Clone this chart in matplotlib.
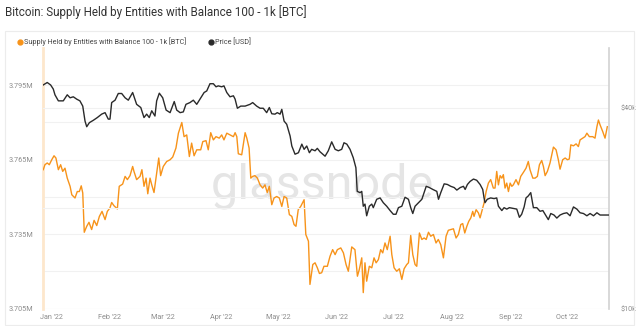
import numpy as np
import pandas as pd
import matplotlib
matplotlib.use('Agg')
from matplotlib import pyplot as plt
from matplotlib.lines import Line2D
from matplotlib.patches import Rectangle
from matplotlib.ticker import FixedLocator, NullFormatter

# Supply held by entities with 100 - 1k BTC (millions of BTC), days counted from 2022-01-01
supply_day = [-4.1, -3.2, -2.0, -0.9, 0.4, 1.6, 2.6, 3.9, 5.1, 6.2, 7.4, 8.6, 10.1, 11.0, 12.7,
              13.9, 15.0, 16.0, 16.8, 17.6, 18.9, 20.1, 21.5, 22.8, 24.2, 25.6, 27.0, 28.6, 29.8,
              31.2, 32.1, 33.3, 35.1, 36.1, 37.9, 39.2, 40.4, 41.8, 43.2, 43.9, 45.3, 47.1, 48.1,
              49.2, 50.3, 51.2, 52.4, 53.3, 54.5, 55.9, 57.0, 58.0, 59.4, 61.2, 63.0, 64.4, 66.1,
              67.4, 69.2, 70.4, 71.8, 73.2, 74.4, 75.7, 77.1, 79.2, 80.3, 82.0, 83.2, 84.5, 85.9,
              87.3, 89.0, 90.3, 91.5, 93.0, 94.7, 96.5, 97.4, 98.3, 99.1, 100.9, 102.7, 103.6,
              104.8, 105.7, 106.7, 107.9, 109.2, 110.6, 112.0, 113.2, 114.4, 115.5, 116.8, 118.0,
              119.4, 120.8, 122.1, 123.3, 124.7, 126.1, 127.4, 128.6, 129.6, 130.8, 132.1, 133.9,
              134.8, 136.2, 137.0, 138.5, 139.7, 140.9, 142.0, 143.2, 144.4, 146.2, 147.6, 149.0,
              150.3, 151.5, 153.3, 154.7, 156.1, 157.3, 159.1, 160.8, 162.1, 163.1, 164.4, 165.2,
              166.1, 167.0, 168.4, 169.7, 170.9, 172.0, 173.2, 174.4, 175.5, 176.7, 177.9, 179.4,
              180.3, 181.5, 182.9, 184.3, 185.6, 186.8, 188.2, 189.1, 190.3, 191.4, 192.6, 193.5,
              194.9, 196.2, 197.4, 198.5, 199.7, 200.9, 202.3, 203.7, 204.9, 206.2, 207.6, 209.0,
              210.2, 211.5, 212.9, 214.3, 215.5, 216.8, 217.8, 218.9, 220.0, 221.0, 222.1, 223.1,
              223.8, 224.9, 226.1, 227.0, 227.9, 229.1, 230.2, 231.4, 232.6, 234.0, 234.9, 235.8,
              236.7, 237.6, 238.5, 239.3, 240.2, 241.1, 242.0, 242.9, 243.8, 244.6, 246.0, 247.3,
              248.5, 249.9, 251.3, 252.5, 253.4, 254.9, 256.1, 257.3, 258.4, 259.6, 260.5, 261.4,
              262.6, 264.0, 264.9, 265.8, 267.2, 268.4, 269.3, 270.7, 272.0, 273.2, 274.2, 275.0,
              276.4, 277.8, 279.0, 279.9, 281.3, 282.5, 283.5, 284.8, 286.6, 287.8, 288.8, 289.6,
              290.5, 291.9, 293.1, 294.3]
supply_m = [3.7609, 3.7629, 3.7636, 3.7629, 3.7649, 3.7665, 3.7656, 3.7609, 3.7629, 3.7602, 3.7615,
            3.7575, 3.7542, 3.7508, 3.7495, 3.7521, 3.7521, 3.7544, 3.7515, 3.7357, 3.7381, 3.7397,
            3.7368, 3.7405, 3.7384, 3.7421, 3.7441, 3.7408, 3.7441, 3.7455, 3.7477, 3.7464, 3.7451,
            3.7542, 3.7551, 3.7582, 3.7569, 3.7585, 3.7622, 3.7602, 3.7569, 3.7582, 3.7609, 3.7542,
            3.7575, 3.7512, 3.7575, 3.7548, 3.7517, 3.7595, 3.7656, 3.7585, 3.7622, 3.7642, 3.7649,
            3.7660, 3.7696, 3.7756, 3.7799, 3.7742, 3.7749, 3.7662, 3.7716, 3.7665, 3.7689, 3.7689,
            3.7722, 3.7726, 3.7689, 3.7758, 3.7729, 3.7742, 3.7736, 3.7749, 3.7729, 3.7756, 3.7749,
            3.7742, 3.7758, 3.7742, 3.7673, 3.7669, 3.7758, 3.7736, 3.7696, 3.7575, 3.7582, 3.7585,
            3.7575, 3.7548, 3.7535, 3.7548, 3.7517, 3.7542, 3.7468, 3.7495, 3.7501, 3.7495, 3.7461,
            3.7501, 3.7495, 3.7428, 3.7421, 3.7388, 3.7381, 3.7448, 3.7461, 3.7488, 3.7348, 3.7321,
            3.7147, 3.7227, 3.7234, 3.7214, 3.7191, 3.7194, 3.7220, 3.7220, 3.7260, 3.7287, 3.7267,
            3.7287, 3.7294, 3.7274, 3.7227, 3.7200, 3.7298, 3.7287, 3.7180, 3.7207, 3.7254, 3.7114,
            3.7234, 3.7160, 3.7220, 3.7214, 3.7254, 3.7234, 3.7247, 3.7287, 3.7274, 3.7314, 3.7287,
            3.7341, 3.7267, 3.7214, 3.7200, 3.7210, 3.7167, 3.7210, 3.7227, 3.7234, 3.7344, 3.7267,
            3.7227, 3.7220, 3.7354, 3.7328, 3.7334, 3.7328, 3.7357, 3.7341, 3.7348, 3.7314, 3.7328,
            3.7307, 3.7254, 3.7341, 3.7365, 3.7368, 3.7371, 3.7334, 3.7348, 3.7388, 3.7392, 3.7354,
            3.7381, 3.7401, 3.7415, 3.7441, 3.7421, 3.7448, 3.7435, 3.7415, 3.7441, 3.7475, 3.7521,
            3.7555, 3.7569, 3.7535, 3.7535, 3.7602, 3.7548, 3.7585, 3.7575, 3.7589, 3.7535, 3.7555,
            3.7521, 3.7555, 3.7542, 3.7548, 3.7569, 3.7548, 3.7582, 3.7598, 3.7615, 3.7642, 3.7609,
            3.7575, 3.7575, 3.7582, 3.7629, 3.7646, 3.7622, 3.7585, 3.7602, 3.7636, 3.7669, 3.7700,
            3.7689, 3.7649, 3.7611, 3.7649, 3.7656, 3.7649, 3.7652, 3.7709, 3.7705, 3.7713, 3.7702,
            3.7729, 3.7736, 3.7742, 3.7756, 3.7742, 3.7742, 3.7736, 3.7782, 3.7809, 3.7789, 3.7762,
            3.7736, 3.7782]

# BTC price (thousands of USD), days counted from 2022-01-01
price_day = [-4.1, -2.0, -0.2, 1.2, 2.1, 3.9, 6.5, 8.6, 10.1, 11.8, 13.6, 15.3, 16.8, 18.0, 18.9,
             20.3, 22.4, 24.5, 26.8, 28.6, 30.3, 31.2, 32.1, 33.9, 35.6, 37.4, 39.2, 40.9, 43.2,
             45.3, 47.5, 49.2, 50.6, 52.0, 53.3, 55.0, 55.9, 57.3, 59.1, 60.9, 63.0, 65.2, 66.5,
             68.3, 70.0, 71.4, 73.5, 75.3, 77.1, 78.8, 81.0, 82.4, 84.1, 85.9, 87.3, 88.5, 90.3,
             91.5, 93.0, 94.7, 96.5, 97.4, 98.6, 100.4, 102.7, 105.3, 106.7, 108.8, 110.6, 112.3,
             114.1, 115.5, 116.8, 118.5, 119.7, 121.2, 122.1, 123.3, 124.7, 126.5, 127.4, 129.1,
             130.9, 132.7, 133.9, 135.3, 136.7, 137.9, 139.7, 140.9, 142.3, 144.4, 145.0, 146.7,
             148.5, 150.3, 152.0, 153.8, 155.0, 156.5, 158.2, 159.9, 161.3, 162.0, 163.5, 164.4,
             165.2, 166.1, 167.0, 168.4, 169.7, 170.5, 172.3, 174.1, 175.8, 177.6, 179.4, 181.1,
             182.5, 183.8, 185.6, 187.3, 189.1, 190.3, 191.4, 192.6, 194.4, 196.2, 197.4, 198.5,
             200.2, 202.0, 204.1, 205.0, 206.2, 208.0, 209.7, 211.5, 213.3, 214.7, 216.5, 218.2,
             219.1, 220.3, 221.7, 223.5, 225.2, 227.0, 228.4, 229.1, 229.6, 230.8, 232.6, 234.4,
             235.8, 236.7, 238.5, 239.7, 241.1, 242.5, 244.6, 246.4, 247.8, 249.0, 250.3, 251.3,
             252.5, 253.8, 255.2, 257.0, 258.7, 260.2, 261.4, 263.1, 264.4, 266.1, 267.6, 269.3,
             271.1, 272.9, 274.6, 276.4, 278.2, 279.9, 281.7, 283.5, 285.2, 287.0, 288.8, 290.5,
             292.3, 294.9]
price_k = [47.0, 47.8, 47.0, 45.7, 43.9, 42.1, 42.1, 43.9, 43.0, 43.3, 42.6, 42.1, 40.6, 36.6, 35.2,
           36.2, 36.8, 37.5, 38.4, 38.8, 37.1, 37.1, 41.6, 42.3, 44.3, 44.3, 43.0, 42.3, 44.6, 41.1,
           40.2, 37.5, 38.4, 37.5, 39.3, 37.9, 42.1, 44.4, 43.0, 39.5, 38.8, 41.9, 39.5, 38.8, 39.0,
           41.1, 41.6, 42.3, 41.1, 42.6, 44.6, 45.1, 47.4, 47.4, 46.4, 46.7, 46.4, 46.7, 44.6, 43.3,
           43.6, 42.6, 40.0, 40.6, 40.6, 41.1, 41.6, 40.6, 40.0, 40.0, 38.8, 40.2, 38.5, 38.4, 38.8,
           38.4, 39.7, 36.6, 35.8, 33.0, 30.8, 29.1, 29.4, 31.2, 30.1, 30.8, 29.4, 30.1, 29.8, 30.3,
           29.6, 28.9, 28.7, 29.8, 31.7, 30.1, 29.8, 30.1, 31.5, 31.2, 30.1, 28.4, 26.5, 22.5, 22.3,
           22.5, 20.3, 20.6, 19.0, 20.3, 20.6, 20.1, 21.3, 21.5, 20.8, 20.3, 19.7, 19.2, 19.2, 20.1,
           20.3, 21.6, 21.3, 20.1, 19.3, 20.3, 20.8, 21.3, 22.3, 23.3, 23.1, 22.8, 22.5, 21.3, 22.3,
           23.7, 23.6, 23.3, 23.1, 22.7, 23.1, 23.3, 22.8, 23.6, 24.1, 24.5, 24.3, 23.6, 22.8, 21.5,
           20.8, 21.3, 21.5, 21.4, 21.5, 20.3, 19.7, 20.1, 19.9, 20.1, 20.0, 19.9, 18.8, 19.2, 20.2,
           21.5, 21.8, 22.3, 20.1, 20.1, 19.6, 19.7, 19.2, 18.5, 19.3, 19.1, 18.7, 19.1, 19.3, 19.4,
           19.0, 20.2, 19.9, 19.4, 19.3, 19.0, 19.3, 19.0, 19.4, 19.1, 19.1, 19.1]

month_labels = ["Jan '22", "Feb '22", "Mar '22", "Apr '22", "May '22", "Jun '22",
                "Jul '22", "Aug '22", "Sep '22", "Oct '22"]
supply_ticks = [3.705, 3.735, 3.765, 3.795]
price_ticks = [10000, 40000]

start = pd.Timestamp('2022-01-01')
supply_dates = start + pd.to_timedelta(supply_day, unit='D')
price_dates = start + pd.to_timedelta(price_day, unit='D')
month_dates = pd.date_range('2022-01-01', periods=len(month_labels), freq='MS')

plt.rcParams['font.family'] = ['Roboto', 'DejaVu Sans']
grey = '#8c8c8c'

fig = plt.figure(figsize=(6.4, 3.26), dpi=100)
fig.patches.append(Rectangle((5 / 640, 1 / 326), 629 / 640, 294 / 326, transform=fig.transFigure,
                             facecolor='none', edgecolor='#ececec', lw=0.8))
fig.text(5 / 640, 1 - 12 / 326, "Bitcoin: Supply Held by Entities with Balance 100 - 1k [BTC]",
         fontsize=8.4, color='#333333', va='center', ha='left')

ax = fig.add_axes([43 / 640, 1 - 308.5 / 326, 566 / 640, 260.5 / 326])
ax2 = ax.twinx()

# watermark behind the data
ax.text(0.493, 0.424, 'glassnode', transform=ax.transAxes, fontsize=35,
        color='#e5e5e5', ha='center', va='baseline', zorder=0)

ax.plot(supply_dates, supply_m, color='#f7931a', lw=1.0, zorder=3)
ax2.plot(price_dates, np.array(price_k) * 1000, color='#2a2a2a', lw=1.0, zorder=3)

# left axis: supply
ax.set_xlim(start - pd.Timedelta(days=4.23), start + pd.Timedelta(days=295.2))
ax.set_ylim(3.705, 3.8099)
ax.set_yticks(supply_ticks)
ax.set_yticklabels([f"{v:.3f}M" for v in supply_ticks])
ax.set_yticks([3.72, 3.75, 3.78], minor=True)
ax.grid(axis='y', which='both', color='#f1f1f1', lw=0.8, zorder=0)
ax.tick_params(axis='y', which='both', length=0, pad=7, labelsize=5.2, labelcolor=grey)

ax.set_xticks(month_dates)
ax.set_xticklabels(month_labels)
ax.tick_params(axis='x', length=0, pad=4, labelsize=5.2, labelcolor=grey)

# right axis: price on log scale
ax2.set_yscale('log')
ax2.set_ylim(10000, 60700)
ax2.yaxis.set_major_locator(FixedLocator(price_ticks))
ax2.set_yticklabels([f"${v // 1000}k" for v in price_ticks])
ax2.yaxis.set_minor_locator(FixedLocator([20000]))
ax2.yaxis.set_minor_formatter(NullFormatter())
ax2.grid(axis='y', which='both', color='#f1f1f1', lw=0.8, zorder=0)
ax2.tick_params(axis='y', which='both', length=0, pad=8, labelsize=5.2, labelcolor=grey)

for s in ['top', 'bottom', 'right']:
    ax.spines[s].set_visible(False)
for s in ['top', 'bottom', 'left']:
    ax2.spines[s].set_visible(False)
ax.spines['left'].set_color('#fde7cc')
ax.spines['left'].set_linewidth(2)
ax2.spines['right'].set_color('#d2d2d2')
ax2.spines['right'].set_linewidth(1.2)

handles = [Line2D([], [], ls='none', marker='o', ms=3.5, color='#f7931a'),
           Line2D([], [], ls='none', marker='o', ms=3.5, color='#2a2a2a')]
fig.legend(handles, ["Supply Held by Entities with Balance 100 - 1k [BTC]", "Price [USD]"],
           loc='center left', bbox_to_anchor=(16 / 640, 1 - 42 / 326), ncol=2, frameon=False,
           fontsize=5.2, handletextpad=0.1, columnspacing=2.9, handlelength=1.0,
           labelcolor='#444444', borderaxespad=0, borderpad=0)

fig.savefig('out.png', dpi=100)
